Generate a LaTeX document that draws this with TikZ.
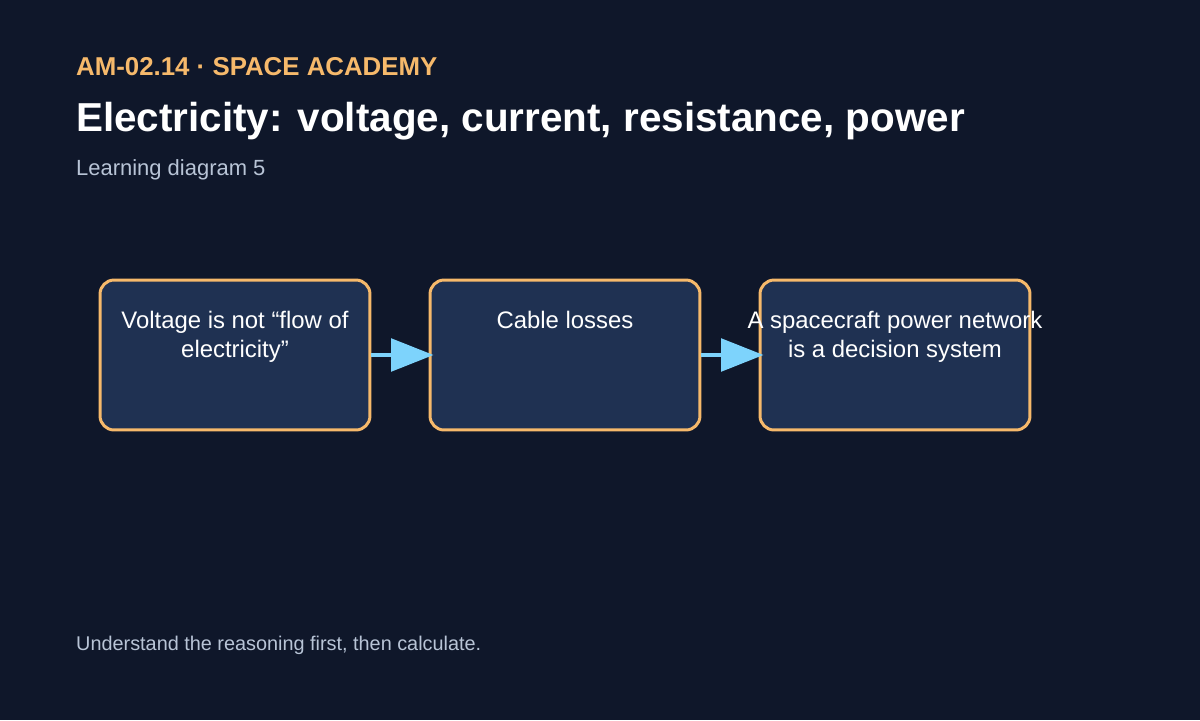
\documentclass[tikz,border=0pt]{standalone}
\usepackage{fontspec}
\setmainfont{Liberation Sans}
\usetikzlibrary{positioning,arrows.meta}
\definecolor{bgnavy}{RGB}{15,23,42}
\definecolor{boxfill}{RGB}{31,49,82}
\definecolor{accent}{RGB}{246,185,107}
\definecolor{flow}{RGB}{125,211,252}
\definecolor{muted}{RGB}{184,196,214}
\tikzset{
  stagebox/.style={draw=accent, fill=boxfill, line width=1.7pt, rounded corners=8pt,
    minimum width=5.4cm, minimum height=3cm, inner sep=0pt},
  stagetext/.style={text=white, align=center, font=\fontsize{13.6}{17}\selectfont},
  link/.style={draw=flow, line width=2.3pt, -{Triangle[length=0.85cm,width=0.65cm]}, shorten >=-0.1cm}
}
\begin{document}
\begin{tikzpicture}[x=0.02cm,y=-0.02cm]

    \fill[bgnavy] (0,0) rectangle (1200,720);
    \useasboundingbox (0,0) rectangle (1200,720);

    \node[anchor=base west, text=accent, font=\fontsize{14.7}{17}\selectfont\bfseries] (code) at (70,75) {AM-02.14 · SPACE ACADEMY};
    \node[anchor=base west, text=white, font=\fontsize{23}{27}\selectfont\bfseries] (title) at (70,131) {Electricity: voltage, current, resistance, power};
    \node[anchor=base west, text=muted, font=\fontsize{12.5}{15}\selectfont] (sub) at (70,175) {Learning diagram 5};

    \node[stagebox] (voltage) at (235,355) {};
    \node[stagebox] (cable) at (565,355) {};
    \node[stagebox] (network) at (895,355) {};

    \node[stagetext, anchor=north] at (voltage.north) [yshift=-0.52cm] {Voltage is not “flow of\\electricity”};
    \node[stagetext, anchor=north] at (cable.north) [yshift=-0.52cm] {Cable losses};
    \node[stagetext, anchor=north] at (network.north) [yshift=-0.52cm] {A spacecraft power network\\is a decision system};

    \draw[link] (voltage) -- (cable);
    \draw[link] (cable) -- (network);

    \node[anchor=base west, text=muted, font=\fontsize{11.3}{14}\selectfont] (foot) at (70,650) {Understand the reasoning first, then calculate.};

\end{tikzpicture}
\end{document}
